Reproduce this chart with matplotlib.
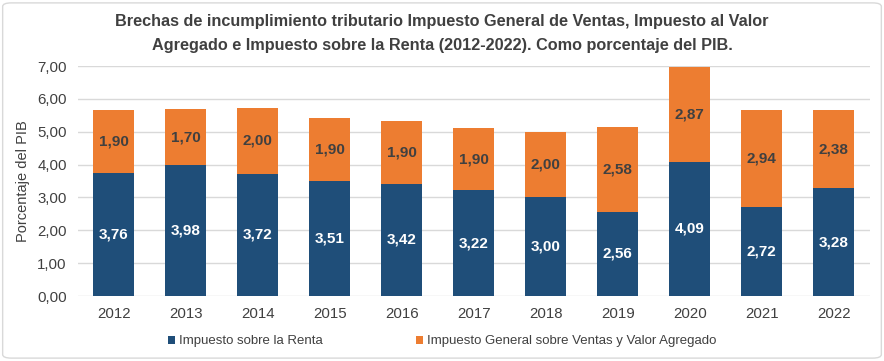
import numpy as np
import matplotlib.pyplot as plt
from matplotlib.patches import FancyBboxPatch

plt.rcParams['font.family'] = ['Liberation Sans', 'DejaVu Sans']

years = ['2012', '2013', '2014', '2015', '2016', '2017', '2018', '2019', '2020', '2021', '2022']
renta = [3.76, 3.98, 3.72, 3.51, 3.42, 3.22, 3.00, 2.56, 4.09, 2.72, 3.28]
igv = [1.90, 1.70, 2.00, 1.90, 1.90, 1.90, 2.00, 2.58, 2.87, 2.94, 2.38]

c_renta = '#1F4E79'
c_igv = '#ED7D31'

fig = plt.figure(figsize=(8.84, 3.61), dpi=100)
ax = fig.add_axes([0.088, 0.18, 0.896, 0.637])

x = np.arange(len(years))
ax.bar(x, renta, width=0.57, color=c_renta, label='Impuesto sobre la Renta', zorder=3)
ax.bar(x, igv, width=0.57, bottom=renta, color=c_igv,
       label='Impuesto General sobre Ventas y Valor Agregado', zorder=3)

for i in range(len(years)):
    ax.text(x[i], renta[i] / 2, f'{renta[i]:.2f}'.replace('.', ','), ha='center', va='center',
            color='white', fontsize=11, fontweight='bold', zorder=4)
    ax.text(x[i], renta[i] + igv[i] / 2, f'{igv[i]:.2f}'.replace('.', ','), ha='center', va='center',
            color='#404040', fontsize=11, fontweight='bold', zorder=4)

ax.set_xlim(-0.5, 10.5)
ax.set_ylim(0, 7)
ax.set_yticks(np.arange(0, 7.01, 1))
ax.set_yticklabels([f'{v:.2f}'.replace('.', ',') for v in np.arange(0, 7.01, 1)])
ax.set_xticks(x)
ax.set_xticklabels(years)
ax.tick_params(axis='both', length=0, labelsize=10.8, colors='#404040', pad=8)
ax.grid(axis='y', color='#D9D9D9', linewidth=1, zorder=0)
for s in ax.spines.values():
    s.set_visible(False)
ax.set_ylabel('Porcentaje del PIB', fontsize=10.5, color='#404040', labelpad=5)

fig.text(0.5, 0.962, 'Brechas de incumplimiento tributario Impuesto General de Ventas, Impuesto al Valor\n'
         'Agregado e Impuesto sobre la Renta (2012-2022). Como porcentaje del PIB.',
         ha='center', va='top', fontsize=11.7, fontweight='bold', color='#404040', linespacing=1.75)

ax.legend(loc='upper center', bbox_to_anchor=(0.46, -0.12), ncol=2, frameon=False,
          fontsize=9.5, handlelength=0.6, handleheight=0.6, handletextpad=0.3, columnspacing=7,
          labelcolor='#404040')

fig.patches.append(FancyBboxPatch((0.003, 0.008), 0.994, 0.984, boxstyle='round,pad=0,rounding_size=0.01',
                                  transform=fig.transFigure, fill=False, edgecolor='#D9D9D9', linewidth=1))

fig.savefig('out.png', dpi=100)
